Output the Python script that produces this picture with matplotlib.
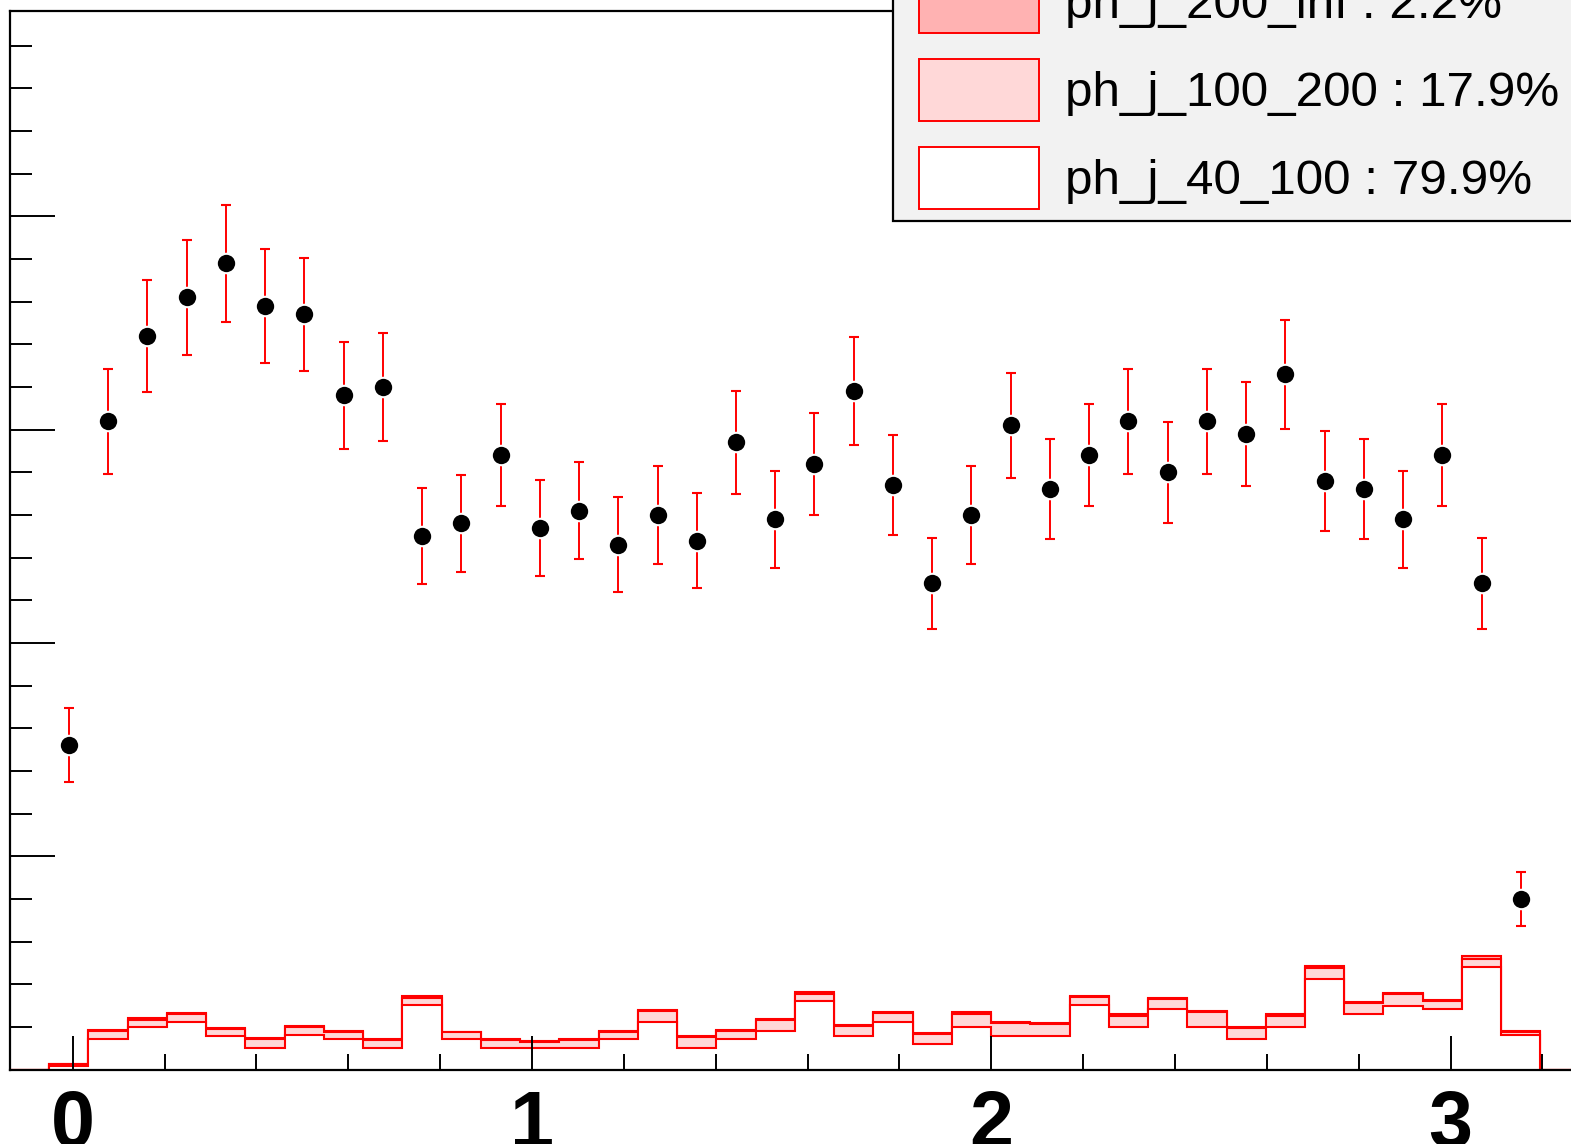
import numpy as np
import matplotlib
matplotlib.use("Agg")
import matplotlib.pyplot as plt
from matplotlib.patches import Rectangle
from matplotlib.ticker import MultipleLocator

# ---------------- data ----------------
x_low = -0.1366
bin_width = 0.08544
n_bins = 40

# stacked MC components per bin (bins 0..39)
h_40_100 = [0.0, 0.9, 7.1, 10.0, 11.2, 7.9, 5.0, 8.1, 7.1, 5.1,
            15.1, 7.1, 5.0, 5.0, 5.0, 7.1, 11.1, 5.0, 7.1, 9.1,
            16.1, 7.9, 11.1, 6.0, 10.0, 7.9, 7.9, 15.1, 10.0, 14.2,
            10.0, 7.1, 10.0, 21.1, 13.0, 15.0, 14.1, 24.1, 8.1, 0.0]
h_100_200 = [0.0, 0.45, 1.9, 1.7, 1.8, 1.7, 2.1, 1.8, 1.6, 1.8,
             1.7, 1.6, 1.9, 1.45, 1.9, 1.7, 2.5, 2.55, 1.96, 2.4,
             1.6, 2.2, 2.1, 2.3, 3.1, 3.0, 2.8, 1.8, 2.6, 2.3,
             3.4, 2.7, 2.6, 2.7, 2.6, 2.6, 1.9, 1.9, 0.8, 0.0]
h_200_inf = [0.0, 0.05, 0.3, 0.3, 0.3, 0.2, 0.2, 0.3, 0.3, 0.2,
             0.4, 0.2, 0.2, 0.3, 0.2, 0.2, 0.3, 0.3, 0.2, 0.3,
             0.4, 0.3, 0.3, 0.2, 0.3, 0.3, 0.3, 0.4, 0.3, 0.3,
             0.3, 0.2, 0.3, 0.5, 0.3, 0.3, 0.3, 0.6, 0.1, 0.0]

# data (bins 1..38)
data_counts = [76, 152, 172, 181, 189, 179, 177, 158, 160, 125,
               128, 144, 127, 131, 123, 130, 124, 147, 129, 142,
               159, 137, 114, 130, 151, 136, 144, 152, 140, 152,
               149, 163, 138, 136, 129, 144, 114, 40]
data_errors = [8.7, 12.3, 13.1, 13.5, 13.7, 13.4, 13.3, 12.6, 12.6, 11.2,
               11.3, 12.0, 11.3, 11.4, 11.1, 11.4, 11.1, 12.1, 11.4, 11.9,
               12.6, 11.7, 10.7, 11.4, 12.3, 11.7, 12.0, 12.3, 11.8, 12.3,
               12.2, 12.8, 11.7, 11.7, 11.4, 12.0, 10.7, 6.3]
first_data_bin = 1

legend_labels = ["ph_j_200_inf : 2.2%", "ph_j_100_200 : 17.9%", "ph_j_40_100 : 79.9%"]
x_major_ticks = [0, 1, 2, 3]
y_major_ticks = [0, 50, 100, 150, 200]

# ---------------- style ----------------
W, H = 1571, 1144
RED = "#ff0000"
C200 = "#ffb2b2"
C100 = "#ffd8d8"
C40 = "#ffffff"
LEG_BG = "#f2f2f2"

plt.rcParams['font.family'] = ['Liberation Sans', 'DejaVu Sans']

fig = plt.figure(figsize=(W / 100, H / 100), dpi=100)
fig.patch.set_facecolor("white")

left_px, right_px, top_px, bot_px = 10, 1579.7, 10.7, 1069.5
ax = fig.add_axes([left_px / W, (H - bot_px) / H,
                   (right_px - left_px) / W, (bot_px - top_px) / H])
ax.set_axisbelow(False)

edges = x_low + bin_width * np.arange(n_bins + 1)
h40 = np.array(h_40_100)
h100 = np.array(h_100_200)
h200 = np.array(h_200_inf)
mid = h40 + h100
tot = mid + h200

lw_hist = 1.5
ax.stairs(tot, edges, baseline=0, fill=True, facecolor=C200, edgecolor=RED, lw=lw_hist, zorder=1.1)
ax.stairs(mid, edges, baseline=0, fill=True, facecolor=C100, edgecolor=RED, lw=lw_hist, zorder=1.2)
ax.stairs(h40, edges, baseline=0, fill=True, facecolor=C40, edgecolor=RED, lw=lw_hist, zorder=1.3)

centers = 0.5 * (edges[:-1] + edges[1:])
xd = centers[first_data_bin:first_data_bin + len(data_counts)]
ax.errorbar(xd, data_counts, yerr=data_errors, fmt='o', color='black',
            ecolor=RED, elinewidth=1.4, capsize=3.8, capthick=1.4,
            markersize=14, markeredgecolor='white', markeredgewidth=1.5,
            zorder=3)

ax.set_xlim(edges[0], edges[-1])
ax.set_ylim(0, 248.2)

ax.xaxis.set_major_locator(MultipleLocator(1))
ax.xaxis.set_minor_locator(MultipleLocator(0.2))
ax.yaxis.set_major_locator(MultipleLocator(50))
ax.yaxis.set_minor_locator(MultipleLocator(10))

ax.tick_params(axis='x', which='major', direction='in', length=24.5, width=1.4,
               pad=14, labelsize=57)
ax.tick_params(axis='x', which='minor', direction='in', length=11.5, width=1.4)
ax.tick_params(axis='y', which='major', direction='in', length=32.4, width=1.4,
               pad=5, labelsize=57)
ax.tick_params(axis='y', which='minor', direction='in', length=15.8, width=1.4)
ax.set_xticks(x_major_ticks)
ax.set_xticklabels([str(v) for v in x_major_ticks], fontweight='bold')
ax.set_yticks(y_major_ticks)
ax.set_yticklabels([str(v) for v in y_major_ticks], fontweight='bold')

for s in ax.spines.values():
    s.set_linewidth(1.6)
    s.set_color('black')

# ---------------- legend (ROOT TLegend style) ----------------
def fx(x):
    return x / W

def fy(y):
    return 1 - y / H

leg_left, leg_bottom = 893, 221
fig.add_artist(Rectangle((fx(leg_left), fy(leg_bottom)), fx(1700 - leg_left),
                         (leg_bottom + 80) / H, transform=fig.transFigure,
                         facecolor=LEG_BG, edgecolor='black', lw=1.6, zorder=10))
box_colors = [C200, C100, C40]
row_centers = [2, 90, 178]
for lab, col, yc in zip(legend_labels, box_colors, row_centers):
    fig.add_artist(Rectangle((fx(919), fy(yc + 31)), fx(120), 62 / H,
                             transform=fig.transFigure, facecolor=col,
                             edgecolor=RED, lw=1.4, zorder=11))
    fig.text(fx(1065), fy(yc + 16), lab, fontsize=35.6, color='black',
             ha='left', va='baseline', zorder=12)

fig.savefig("out.png", dpi=100)
